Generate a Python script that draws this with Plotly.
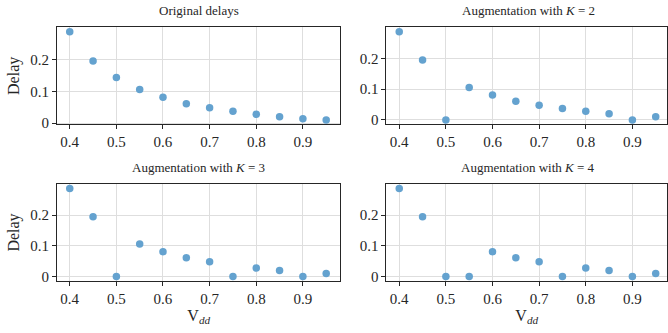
import plotly.graph_objects as go

vdd = [0.40, 0.45, 0.50, 0.55, 0.60, 0.65, 0.70, 0.75, 0.80, 0.85, 0.90, 0.95]
original = [0.287, 0.195, 0.143, 0.106, 0.081, 0.061, 0.048, 0.037, 0.028, 0.020, 0.014, 0.010]
aug_k2 = [0.287, 0.195, 0.0, 0.106, 0.081, 0.061, 0.048, 0.037, 0.028, 0.020, 0.0, 0.010]
aug_k3 = [0.287, 0.195, 0.0, 0.106, 0.081, 0.061, 0.048, 0.0, 0.028, 0.020, 0.0, 0.010]
aug_k4 = [0.287, 0.195, 0.0, 0.0, 0.081, 0.061, 0.048, 0.0, 0.028, 0.020, 0.0, 0.010]

titles = ["Original delays", "Augmentation with <i>K</i> = 2",
          "Augmentation with <i>K</i> = 3", "Augmentation with <i>K</i> = 4"]
series = [original, aug_k2, aug_k3, aug_k4]
x_ticks = [0.4, 0.5, 0.6, 0.7, 0.8, 0.9]
y_ticks = [0, 0.1, 0.2]
y_ticktext = ["0", "0.1", "0.2"]

W, H = 668, 333
FONT = "Liberation Serif"
MARK = "#64a2cf"
INK = "#262626"

# panel pixel boxes (left, right, top, bottom); right column is cropped at the page edge
boxes = [(57, 341, 28, 127), (387, 668, 28, 127),
         (57, 341, 188, 287), (387, 668, 188, 287)]
title_centers = [199, 529, 199, 529]
px_per_unit = 467.0

fig = go.Figure()
for i, (ys, (l, r, t, b)) in enumerate(zip(series, boxes)):
    n = i + 1
    xa = "x" if n == 1 else f"x{n}"
    ya = "y" if n == 1 else f"y{n}"
    fig.add_trace(go.Scatter(x=vdd, y=ys, mode="markers", xaxis=xa, yaxis=ya,
                             marker=dict(color=MARK, size=7.5, line=dict(width=0)),
                             showlegend=False, cliponaxis=False))
    x0 = 0.3725
    x1 = x0 + (r - l) / px_per_unit
    lo, hi = min(ys), max(ys)
    pad = 0.05 * (hi - lo)
    xaxis = dict(domain=[l / W, r / W], range=[x0, x1], anchor=ya,
                 tickvals=x_ticks, ticktext=[f"{v:.1f}" for v in x_ticks],
                 showgrid=True, gridcolor="#dedede", gridwidth=1,
                 zeroline=False, showline=True, mirror=True,
                 linecolor=INK, linewidth=1,
                 ticks="outside", ticklen=4, tickcolor=INK,
                 tickfont=dict(family=FONT, size=15, color=INK))
    yaxis = dict(domain=[1 - b / H, 1 - t / H], range=[lo - pad, hi + pad], anchor=xa,
                 tickvals=y_ticks, ticktext=y_ticktext,
                 showgrid=True, gridcolor="#dedede", gridwidth=1,
                 zeroline=False, showline=True, mirror=True,
                 linecolor=INK, linewidth=1,
                 ticks="outside", ticklen=4, tickcolor=INK,
                 tickfont=dict(family=FONT, size=15, color=INK))
    if n >= 3:
        xaxis["title"] = dict(text="V<sub><i>dd</i></sub>",
                              font=dict(family=FONT, size=16, color=INK), standoff=2)
    if n in (1, 3):
        yaxis["title"] = dict(text="Delay",
                              font=dict(family=FONT, size=16, color=INK), standoff=6)
    xkey = "xaxis" if n == 1 else f"xaxis{n}"
    ykey = "yaxis" if n == 1 else f"yaxis{n}"
    fig.update_layout(**{xkey: xaxis, ykey: yaxis})
    fig.add_annotation(text=titles[i], xref="paper", yref="paper",
                       x=title_centers[i] / W, y=1 - (t - 17) / H,
                       xanchor="center", yanchor="middle", showarrow=False,
                       font=dict(family=FONT, size=13, color=INK))

fig.update_layout(width=W, height=H, margin=dict(l=0, r=0, t=0, b=0),
                  paper_bgcolor="white", plot_bgcolor="white")
fig.write_html("out.html")
